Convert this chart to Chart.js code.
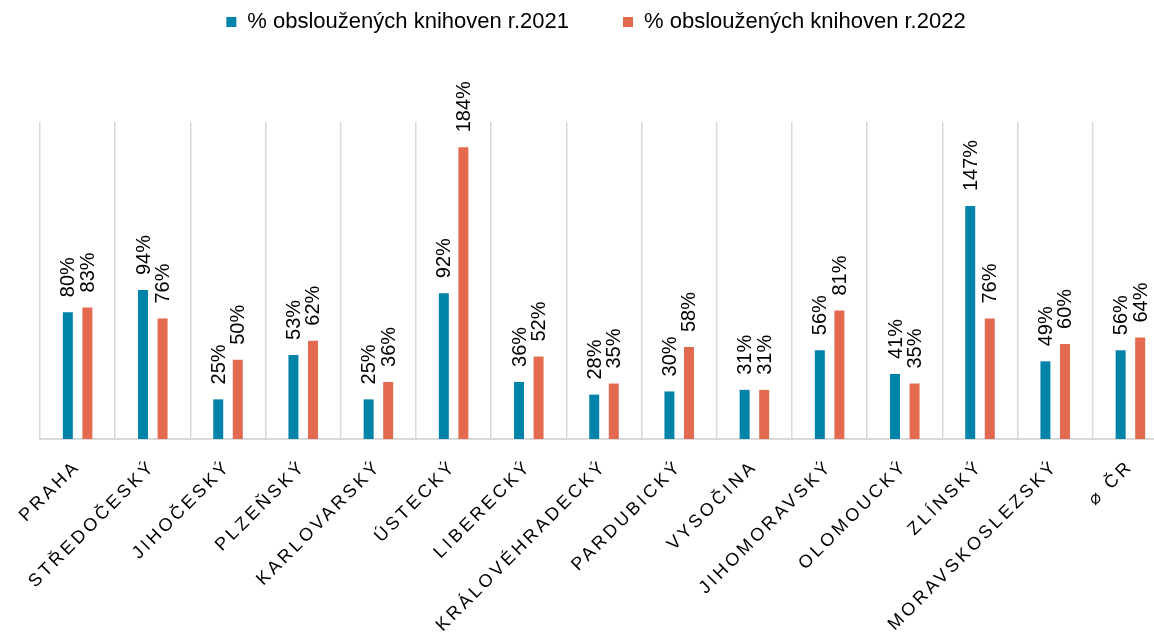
<!DOCTYPE html>
<html><head><meta charset="utf-8">
<script src="https://cdn.jsdelivr.net/npm/chart.js@4.4.0/dist/chart.umd.min.js"></script>
<style>
html,body{margin:0;padding:0;overflow:hidden;background:#fff;width:1154px;height:641px;position:relative;}
#wrap{position:absolute;left:0;top:-43px;width:1170px;height:684px;}
</style></head><body>
<div id="wrap"><canvas id="c"></canvas></div>
<script>
const categories = ['PRAHA','STŘEDOČESKÝ','JIHOČESKÝ','PLZEŇSKÝ','KARLOVARSKÝ','ÚSTECKÝ','LIBERECKÝ','KRÁLOVÉHRADECKÝ','PARDUBICKÝ','VYSOČINA','JIHOMORAVSKÝ','OLOMOUCKÝ','ZLÍNSKÝ','MORAVSKOSLEZSKÝ','⌀ ČR'];
const seriesNames = ['% obsloužených knihoven r.2021','% obsloužených knihoven r.2022'];
const values2021 = [80,94,25,53,25,92,36,28,30,31,56,41,147,49,56];
const values2022 = [83,76,50,62,36,184,52,35,58,31,81,35,76,60,64];
const yMin = 0;
const yMax = 200;

const FONT = "'Liberation Sans', Arial, sans-serif";
const BLUE = '#0083A9';
const ORANGE = '#E3694F';

const valueLabels = {
  id: 'valueLabels',
  afterDatasetsDraw(chart) {
    const ctx = chart.ctx;
    ctx.save();
    ctx.font = '20px ' + FONT;
    ctx.fillStyle = '#000';
    ctx.textAlign = 'left';
    ctx.textBaseline = 'middle';
    chart.data.datasets.forEach((ds, i) => {
      const meta = chart.getDatasetMeta(i);
      meta.data.forEach((el, j) => {
        ctx.save();
        ctx.translate(el.x, el.y - 15);
        ctx.rotate(-Math.PI / 2);
        ctx.fillText(ds.data[j] + '%', 0, 1);
        ctx.restore();
      });
    });
    ctx.restore();
  }
};

const tickSpacing = {
  id: 'tickSpacing',
  beforeDraw(chart) {
    const s = chart.scales.x;
    if (s && !s.__ls) {
      const orig = s.drawLabels;
      s.drawLabels = function (area) {
        const c = this.ctx;
        c.save();
        c.letterSpacing = '3.2px';
        orig.call(this, area);
        c.restore();
      };
      s.__ls = true;
    }
  }
};

new Chart(document.getElementById('c'), {
  type: 'bar',
  data: {
    labels: categories,
    datasets: [
      { label: seriesNames[0], data: values2021, backgroundColor: BLUE, borderWidth: 0, barPercentage: 0.51, categoryPercentage: 0.52 },
      { label: seriesNames[1], data: values2022, backgroundColor: ORANGE, borderWidth: 0, barPercentage: 0.51, categoryPercentage: 0.52 }
    ]
  },
  options: {
    responsive: true,
    maintainAspectRatio: false,
    animation: false,
    layout: { padding: { left: 24, right: 2, top: 0, bottom: 0 } },
    plugins: {
      legend: {
        position: 'top',
        labels: { font: { size: 22, family: FONT }, color: '#000', boxWidth: 10, boxHeight: 10, padding: 54 }
      },
      tooltip: { enabled: false }
    },
    scales: {
      x: {
        type: 'category',
        offset: true,
        grid: { display: true, offset: true, color: '#d9d9d9', lineWidth: 1.5, drawTicks: false },
        border: { display: true, color: '#d9d9d9', width: 2 },
        ticks: { autoSkip: false, minRotation: 45, maxRotation: 45, padding: 17, color: '#000', font: { size: 18, family: FONT } },
        afterFit(s) { s.height = 202; }
      },
      xTop: {
        type: 'category',
        position: 'top',
        display: true,
        grid: { display: false },
        border: { display: false },
        ticks: { display: false },
        afterFit(s) { s.height = 79; }
      },
      y: {
        min: yMin, max: yMax,
        display: true,
        grid: { display: false },
        border: { display: false },
        ticks: { display: false },
        afterFit(s) { s.width = 16; }
      }
    }
  },
  plugins: [valueLabels, tickSpacing]
});
</script>
</body></html>
